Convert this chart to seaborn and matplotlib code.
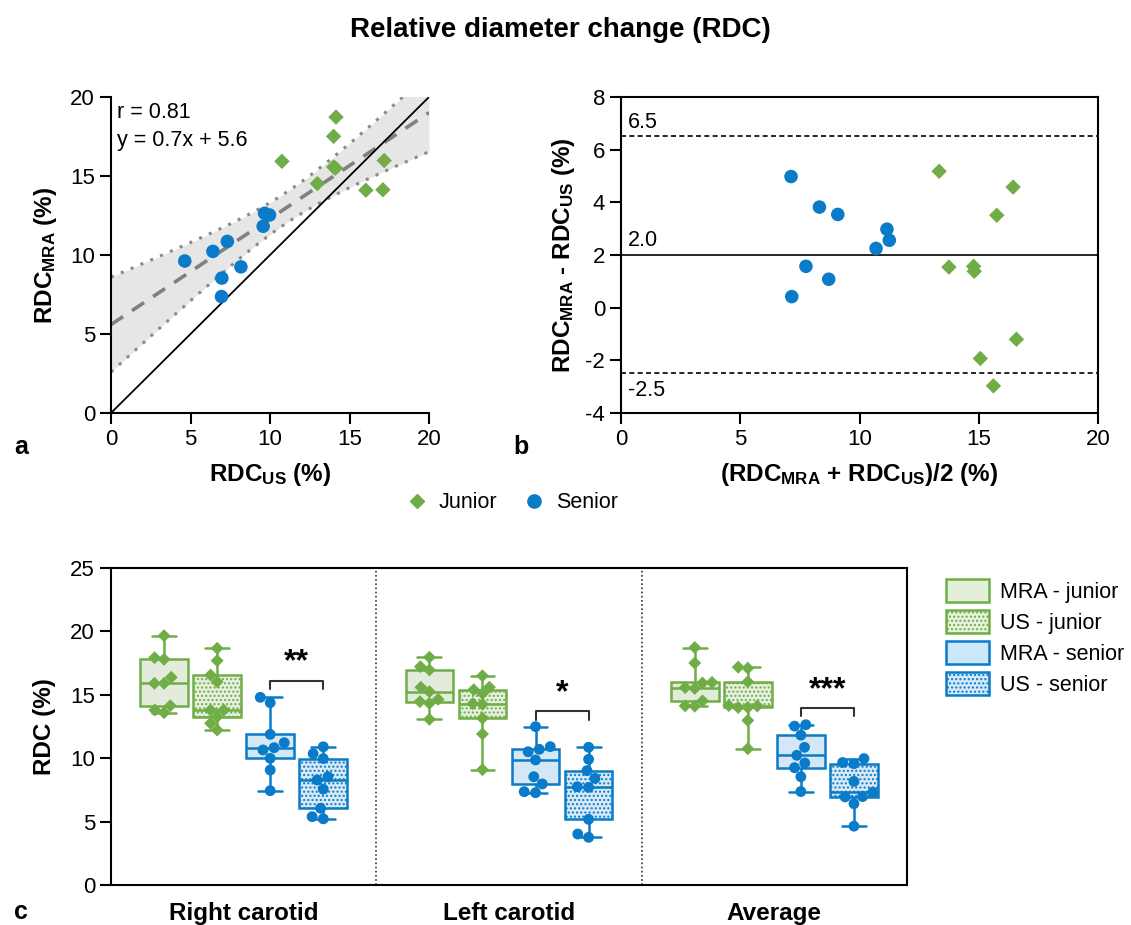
import numpy as np
import pandas as pd
import matplotlib
matplotlib.use("Agg")
import matplotlib.pyplot as plt
from matplotlib.lines import Line2D
from matplotlib.patches import Patch
import seaborn as sns

# ---- data ----
# panel a/b (average of both carotids, n=9 per reader)
junior_us = [10.75, 14.15, 14.0, 12.98, 14.0, 14.12, 17.18, 16.03, 17.1]
junior_mra = [15.93, 18.73, 17.51, 14.52, 15.57, 15.5, 15.98, 14.1, 14.13]
senior_us = [4.64, 6.41, 7.32, 9.66, 9.97, 9.57, 6.97, 8.17, 6.95]
senior_mra = [9.62, 10.23, 10.86, 12.64, 12.53, 11.82, 8.54, 9.25, 7.37]

# Bland-Altman bias and limits of agreement (as printed)
loa_values = [6.5, 2.0, -2.5]
loa_labels = ["6.5", "2.0", "-2.5"]

# panel c
sites = ["Right carotid", "Left carotid", "Average"]
series_order = ["MRA - junior", "US - junior", "MRA - senior", "US - senior"]
right_mra_junior = [19.66, 17.8, 17.93, 16.38, 15.9, 15.9, 13.59, 14.14, 13.8]
right_us_junior = [18.67, 17.69, 16.56, 16.03, 13.8, 13.8, 13.27, 12.75, 12.22]
right_mra_senior = [14.8, 14.38, 11.88, 10.83, 10.65, 11.22, 9.99, 9.07, 7.44]
right_us_senior = [10.9, 10.36, 9.97, 8.28, 8.54, 7.56, 6.05, 5.22, 5.39]
left_mra_junior = [17.96, 17.22, 16.96, 15.25, 15.59, 14.46, 14.64, 14.33, 13.07]
left_us_junior = [16.5, 15.6, 15.4, 15.1, 14.25, 14.3, 13.15, 11.91, 9.1]
left_mra_senior = [12.49, 10.91, 10.51, 10.7, 9.86, 8.54, 7.97, 7.28, 7.36]
left_us_senior = [10.86, 9.91, 9.02, 8.41, 7.7, 7.75, 5.18, 3.76, 4.02]
sig_labels = ["**", "*", "***"]
sig_heights = [16.1, 13.7, 13.95]

GREEN = "#70ad47"
BLUE = "#0a7bc8"
FILL = {"MRA - junior": "#e2efd9", "US - junior": "#e6f1de",
        "MRA - senior": "#cde8fa", "US - senior": "#d3eafb"}
EDGE = {"MRA - junior": GREEN, "US - junior": GREEN,
        "MRA - senior": BLUE, "US - senior": BLUE}
HATCH = {"MRA - junior": None, "US - junior": "....",
         "MRA - senior": None, "US - senior": "...."}
MARKER = {"MRA - junior": "D", "US - junior": "D",
          "MRA - senior": "o", "US - senior": "o"}

sns.set_theme(style="ticks")
plt.rcParams["font.family"] = ["Liberation Sans", "DejaVu Sans"]
plt.rcParams["text.color"] = "black"
plt.rcParams["axes.labelcolor"] = "black"
plt.rcParams["xtick.color"] = "black"
plt.rcParams["ytick.color"] = "black"
plt.rcParams["axes.unicode_minus"] = False
plt.rcParams["mathtext.fontset"] = "custom"
plt.rcParams["mathtext.rm"] = "Liberation Sans"
plt.rcParams["mathtext.bf"] = "Liberation Sans:bold"
plt.rcParams["hatch.linewidth"] = 1.0

TICK_FS = 16
LABEL_FS = 17.5

W, H = 1131, 925
fig = plt.figure(figsize=(W / 100, H / 100), dpi=100)


def px_axes(x0, y0, x1, y1):
    return fig.add_axes([x0 / W, 1 - y1 / H, (x1 - x0) / W, (y1 - y0) / H])


def style_axes(ax, full=False):
    for side in ["left", "bottom", "top", "right"]:
        ax.spines[side].set_color("black")
        ax.spines[side].set_linewidth(1.5)
    if not full:
        ax.spines["top"].set_visible(False)
        ax.spines["right"].set_visible(False)
    ax.tick_params(direction="out", length=8, width=1.5, labelsize=TICK_FS,
                   color="black", labelcolor="black")


ax_a = px_axes(111, 97, 429, 413)
ax_b = px_axes(621, 97, 1098, 413)
ax_c = px_axes(111, 568, 907, 885)

# ---- panel a: correlation ----
df_ab = pd.DataFrame({
    "US": junior_us + senior_us,
    "MRA": junior_mra + senior_mra,
    "Group": ["Junior"] * len(junior_us) + ["Senior"] * len(senior_us),
})
df_ab["Mean"] = (df_ab["US"] + df_ab["MRA"]) / 2
df_ab["Diff"] = df_ab["MRA"] - df_ab["US"]

slope, intercept = np.polyfit(df_ab["US"], df_ab["MRA"], 1)
n = len(df_ab)
resid = df_ab["MRA"] - (slope * df_ab["US"] + intercept)
s_err = np.sqrt((resid ** 2).sum() / (n - 2))
x_mean = df_ab["US"].mean()
sxx = ((df_ab["US"] - x_mean) ** 2).sum()
xs = np.linspace(0, 20, 200)
fit = slope * xs + intercept
half = 2.12 * s_err * np.sqrt(1 / n + (xs - x_mean) ** 2 / sxx)

ax_a.fill_between(xs, fit - half, fit + half, color="#e6e6e6", lw=0, zorder=0)
ax_a.plot(xs, fit - half, color="#8a8a8a", lw=2.2, ls=(0, (1, 2.5)), zorder=1)
ax_a.plot(xs, fit + half, color="#8a8a8a", lw=2.2, ls=(0, (1, 2.5)), zorder=1)
ax_a.plot(xs, fit, color="#808080", lw=2.6, ls=(0, (4, 3)), zorder=1)
ax_a.axline((0, 0), slope=1, color="black", lw=1.3, zorder=1)

pal_grp = {"Junior": GREEN, "Senior": BLUE}
mk_grp = {"Junior": "D", "Senior": "o"}
sz_grp = {"Junior": 62, "Senior": 95}
sns.scatterplot(data=df_ab, x="US", y="MRA", hue="Group", style="Group",
                size="Group", sizes=sz_grp, markers=mk_grp, palette=pal_grp,
                linewidth=0, legend=False, ax=ax_a, zorder=3)
ax_a.set_xlim(0, 20)
ax_a.set_ylim(0, 20)
ax_a.set_xticks(range(0, 21, 5))
ax_a.set_yticks(range(0, 21, 5))
style_axes(ax_a)
ax_a.set_xlabel(r"$\mathbf{RDC_{US}}$ (%)", fontsize=LABEL_FS, fontweight="bold", labelpad=8)
ax_a.set_ylabel(r"$\mathbf{RDC_{MRA}}$ (%)", fontsize=LABEL_FS, fontweight="bold", labelpad=8)
ax_a.text(0.02, 0.985, f"r = 0.81\ny = {slope:.1f}x + {intercept:.1f}",
          transform=ax_a.transAxes, ha="left", va="top", fontsize=15.5,
          linespacing=1.45)

# ---- panel b: Bland-Altman ----
sns.scatterplot(data=df_ab, x="Mean", y="Diff", hue="Group", style="Group",
                size="Group", sizes=sz_grp, markers=mk_grp, palette=pal_grp,
                linewidth=0, legend=False, ax=ax_b, zorder=3)
for val, lab in zip(loa_values, loa_labels):
    ls = "-" if lab == "2.0" else (0, (3, 2))
    ax_b.axhline(val, color="black", lw=1.2, ls=ls, zorder=1)
    if val < 0:
        ax_b.text(0.3, val - 0.25, lab, ha="left", va="top", fontsize=15.5)
    else:
        ax_b.text(0.3, val + 0.15, lab, ha="left", va="bottom", fontsize=15.5)
ax_b.set_xlim(0, 20)
ax_b.set_ylim(-4, 8)
ax_b.set_xticks(range(0, 21, 5))
ax_b.set_yticks(range(-4, 9, 2))
style_axes(ax_b, full=True)
ax_b.set_xlabel(r"($\mathbf{RDC_{MRA}}$ + $\mathbf{RDC_{US}}$)/2 (%)",
                fontsize=LABEL_FS, fontweight="bold", labelpad=8)
ax_b.set_ylabel(r"$\mathbf{RDC_{MRA}}$ - $\mathbf{RDC_{US}}$ (%)",
                fontsize=LABEL_FS, fontweight="bold", labelpad=6)

# ---- panel c: box plots ----
values_c = {
    ("Right carotid", "MRA - junior"): right_mra_junior,
    ("Right carotid", "US - junior"): right_us_junior,
    ("Right carotid", "MRA - senior"): right_mra_senior,
    ("Right carotid", "US - senior"): right_us_senior,
    ("Left carotid", "MRA - junior"): left_mra_junior,
    ("Left carotid", "US - junior"): left_us_junior,
    ("Left carotid", "MRA - senior"): left_mra_senior,
    ("Left carotid", "US - senior"): left_us_senior,
    ("Average", "MRA - junior"): junior_mra,
    ("Average", "US - junior"): junior_us,
    ("Average", "MRA - senior"): senior_mra,
    ("Average", "US - senior"): senior_us,
}
rows = []
for (site, ser), vals in values_c.items():
    for v in vals:
        rows.append({"site": site, "series": ser, "value": v})
df_c = pd.DataFrame(rows)

mk_color = {k: EDGE[k] for k in series_order}
for ser in series_order:
    sub = df_c[df_c["series"] == ser]
    n0 = len(ax_c.patches)
    sns.boxplot(data=sub, x="site", y="value", hue="series", order=sites,
                hue_order=series_order, palette=FILL, linecolor=EDGE[ser],
                linewidth=1.8, whis=(0, 100), width=0.8, gap=0.1,
                dodge=True, legend=False, ax=ax_c, zorder=2)
    if HATCH[ser]:
        for p in ax_c.patches[n0:]:
            p.set_hatch(HATCH[ser])
    sns.swarmplot(data=sub, x="site", y="value", hue="series", order=sites,
                  hue_order=series_order, palette=mk_color, dodge=True,
                  marker=MARKER[ser], size=7.8 if MARKER[ser] == "o" else 6.6,
                  linewidth=0, legend=False, ax=ax_c, zorder=3)

for i, (lab, yb) in enumerate(zip(sig_labels, sig_heights)):
    x1, x2 = i + 0.1, i + 0.3
    ax_c.plot([x1, x1, x2, x2], [yb - 0.65, yb, yb, yb - 0.65],
              color="#333333", lw=1.5, zorder=4)
    ax_c.text((x1 + x2) / 2, yb + 0.25, lab, ha="center", va="bottom",
              fontsize=23, fontweight="bold")

for xv in [0.5, 1.5]:
    ax_c.axvline(xv, color="#333333", lw=1.2, ls=(0, (1, 1.5)), zorder=1)

ax_c.set_xlim(-0.5, 2.5)
ax_c.set_ylim(0, 25)
ax_c.set_yticks(range(0, 26, 5))
style_axes(ax_c, full=True)
ax_c.tick_params(axis="x", length=0, pad=12)
for t in ax_c.get_xticklabels():
    t.set_fontweight("bold")
    t.set_fontsize(LABEL_FS)
ax_c.set_xlabel("")
ax_c.set_ylabel("RDC (%)", fontsize=LABEL_FS, fontweight="bold", labelpad=10)

# ---- legends ----
grp_handles = [Line2D([], [], marker="D", color=GREEN, ls="none", markersize=7.5),
               Line2D([], [], marker="o", color=BLUE, ls="none", markersize=9.5)]
fig.legend(grp_handles, ["Junior", "Senior"], loc="center",
           bbox_to_anchor=(511 / W, 1 - 503 / H), ncol=2, frameon=False,
           fontsize=15.5, handletextpad=0.4, columnspacing=1.1,
           handlelength=1.2)

box_handles = [Patch(facecolor=FILL[k], edgecolor=EDGE[k], hatch=HATCH[k], lw=1.8)
               for k in series_order]
fig.legend(box_handles, series_order, loc="upper left",
           bbox_to_anchor=(946 / W, 1 - 579 / H), frameon=False, fontsize=15.5,
           handlelength=2.0, handleheight=1.25, labelspacing=0.35,
           handletextpad=0.5, borderpad=0, borderaxespad=0)

# ---- titles and panel letters ----
fig.text(560 / W, 1 - 30 / H, "Relative diameter change (RDC)", ha="center",
         va="center", fontsize=20, fontweight="bold")
for lab, x, y in [("a", 14, 447), ("b", 513, 447), ("c", 14, 912)]:
    fig.text(x / W, 1 - y / H, lab, ha="left", va="center", fontsize=18,
             fontweight="bold")

fig.savefig("out.png", dpi=100)
